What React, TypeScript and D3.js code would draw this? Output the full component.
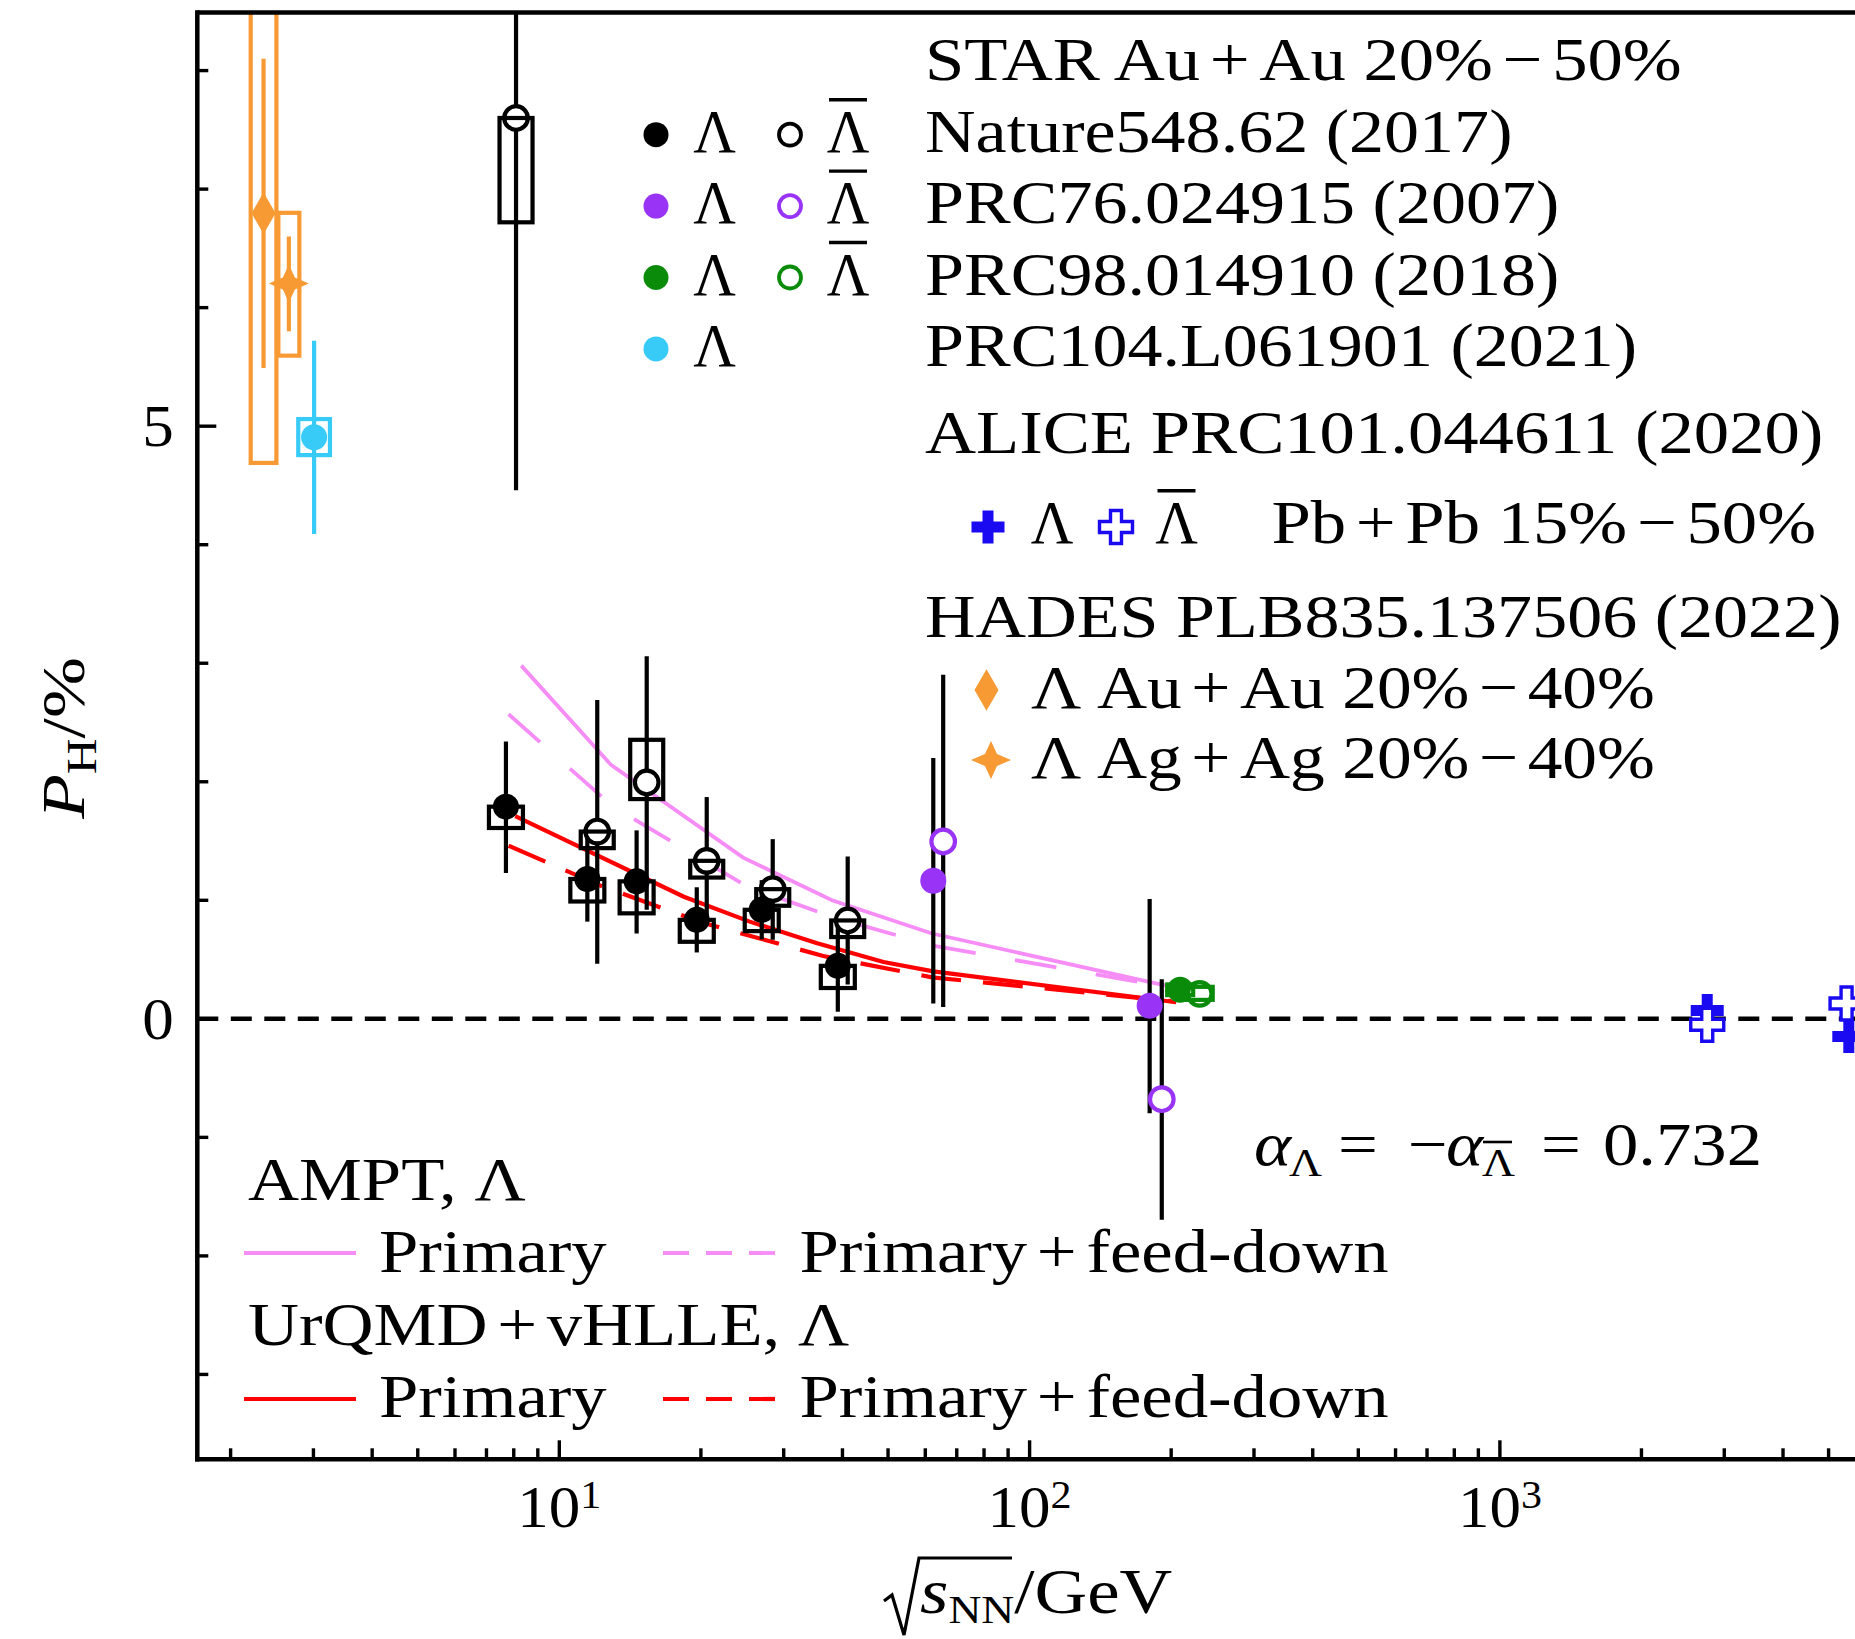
import React from 'react';
import * as d3 from 'd3';

// ---------------- data ----------------
// STAR Au+Au 20-50%, Nature 548, 62 (2017)
const starLamE = [7.7, 11.47, 14.6, 19.6, 26.94, 39.1];
const starLamP = [1.79, 1.18, 1.16, 0.835, 0.92, 0.447];
const starLamStatLo = [1.23, 0.82, 0.72, 0.56, 0.67, 0.06];
const starLamStatHi = [2.34, 1.6, 1.59, 1.11, 1.17, 0.83];
const starLamSysLo = [1.61, 0.99, 0.89, 0.65, 0.74, 0.26];
const starLamSysHi = [1.79, 1.18, 1.16, 0.835, 0.92, 0.447];

const starBarE = [8.09, 12.04, 15.34, 20.58, 28.43, 41.04];
const starBarP = [7.6, 1.58, 1.994, 1.333, 1.094, 0.83];
const starBarStatLo = [4.46, 0.464, 0.92, 0.795, 0.667, 0.29];
const starBarStatHi = [10.74, 2.69, 3.06, 1.871, 1.516, 1.37];
const starBarSysLo = [6.72, 1.44, 1.854, 1.192, 0.954, 0.69];
const starBarSysHi = [7.6, 1.58, 2.354, 1.333, 1.094, 0.83];

// STAR PRC76.024915 (2007)
const prc76LamE = [62.4, 180];
const prc76LamP = [1.165, 0.11];
const prc76LamStatLo = [0.13, -0.796];
const prc76LamStatHi = [2.2, 1.01];
const prc76BarE = [65.5, 191];
const prc76BarP = [1.496, -0.678];
const prc76BarStatLo = [0.099, -1.696];
const prc76BarStatHi = [2.903, 0.335];

// STAR PRC98.014910 (2018)
const prc98LamE = [209];
const prc98LamP = [0.245];
const prc98LamSysLo = [0.2];
const prc98LamSysHi = [0.29];
const prc98BarE = [230];
const prc98BarP = [0.211];
const prc98BarSysLo = [0.16];
const prc98BarSysHi = [0.27];

// STAR PRC104.L061901 (2021)
const prc104E = [3.01];
const prc104P = [4.907];
const prc104StatLo = [4.09];
const prc104StatHi = [5.72];
const prc104SysLo = [4.756];
const prc104SysHi = [5.06];

// HADES PLB835.137506 (2022)
const hadesAuE = [2.35];
const hadesAuP = [6.797];
const hadesAuStatLo = [5.49];
const hadesAuStatHi = [8.1];
const hadesAuSysLo = [4.69];
const hadesAuSysHi = [8.7];
const hadesAgE = [2.66];
const hadesAgP = [6.203];
const hadesAgStatLo = [5.8];
const hadesAgStatHi = [6.6];
const hadesAgSysLo = [5.595];
const hadesAgSysHi = [6.8];

// ALICE PRC101.044611 (2020)
const aliceLamE = [2760, 5520];
const aliceLamP = [0.07, -0.15];
const aliceBarE = [2760, 5460];
const aliceBarP = [-0.05, 0.13];

// Models
const amptPrimE = [8.3, 12.9, 24.6, 38, 62, 195];
const amptPrimP = [2.98, 2.14, 1.36, 1.0, 0.72, 0.28];
const amptFdE = [7.8, 13.0, 25, 38, 62, 195];
const amptFdP = [2.57, 1.79, 1.12, 0.86, 0.62, 0.27];
const urqmdPrimE = [8.06, 18.4, 25.4, 35.2, 48.9, 62.4, 205];
const urqmdPrimP = [1.71, 1.03, 0.82, 0.64, 0.48, 0.4, 0.14];
const urqmdFdE = [7.8, 12.3, 20.2, 36.4, 62, 200];
const urqmdFdP = [1.46, 1.12, 0.81, 0.53, 0.35, 0.15];

const yMajor = [0, 5];
const yMajorLabels = ['0', '5'];
const xMajor = [10, 100, 1000];
const xMajorExp = ['1', '2', '3'];

// ---------------- layout ----------------
const W = 1855, H = 1639;
const X0 = 197.3, X1 = 1855, Y0 = 12.5, Y1 = 1459.3;
const x = d3.scaleLog().domain([1.699, 5690]).range([X0, X1]);
const y = d3.scaleLinear().domain([-3.716, 8.49]).range([Y1, Y0]);

const FONT = "'Liberation Serif', 'Times New Roman', serif";
const C = {
  black: '#000', purple: '#9933f5', green: '#0a8c0a', cyan: '#38cbf8',
  orange: '#f89a33', blue: '#1a0af2', pink: '#f68cf6', red: '#ff0000'
};
const LW = 4.2;
const SX = 1.14;

// binary operators get extra room, as in TeX math
function fmt(s: any) {
  if (typeof s !== 'string') return s;
  const parts = s.split(/([+−])/);
  return parts.map((p, i) => (i === 0 ? p : <tspan key={i} dx={8.5}>{p}</tspan>));
}

function Txt({ x: tx, y: ty, size = 62, anchor = 'start', sx = SX, italic = false, children }: any) {
  return (
    <text transform={`translate(${tx},${ty}) scale(${sx},1)`} fontFamily={FONT} fontSize={size}
      textAnchor={anchor} fontStyle={italic ? 'italic' : 'normal'} fill="#000">{fmt(children)}</text>
  );
}

function LamBar({ cx, base }: any) {
  return (
    <g>
      <Txt x={cx} y={base} anchor="middle" sx={0.95}>Λ</Txt>
      <line x1={cx - 19} x2={cx + 19} y1={base - 52} y2={base - 52} stroke="#000" strokeWidth={3.4} />
    </g>
  );
}

const crossPath = d3.symbol(d3.symbolCross, 605)()!;
const diamondPath = d3.symbol(d3.symbolDiamond, 500)()!;
// four-pointed star
const starPath = (() => {
  const rx = 20, ry = 19, ri = 8.5;
  const pts: [number, number][] = [];
  for (let k = 0; k < 8; k++) {
    const a = -Math.PI / 2 + (k * Math.PI) / 4;
    const outer = k % 2 === 0;
    const rX = outer ? rx : ri, rY = outer ? ry : ri;
    pts.push([Math.cos(a) * rX, Math.sin(a) * rY]);
  }
  return 'M' + pts.map(p => p[0].toFixed(2) + ',' + p[1].toFixed(2)).join('L') + 'Z';
})();

function ErrBars({ E, lo, hi, color }: any) {
  return <g>{E.map((e: number, i: number) => (
    <line key={i} x1={x(e)} x2={x(e)} y1={y(lo[i])} y2={y(hi[i])} stroke={color} strokeWidth={LW} />
  ))}</g>;
}
function Boxes({ E, lo, hi, color, bw }: any) {
  return <g>{E.map((e: number, i: number) => (
    <rect key={i} x={x(e) - bw / 2} width={bw} y={y(hi[i])} height={y(lo[i]) - y(hi[i])}
      fill="none" stroke={color} strokeWidth={LW} />
  ))}</g>;
}
function Circles({ E, P, color, open }: any) {
  return <g>{E.map((e: number, i: number) => (
    open
      ? <circle key={i} cx={x(e)} cy={y(P[i])} r={11.8} fill="#fff" stroke={color} strokeWidth={LW} />
      : <circle key={i} cx={x(e)} cy={y(P[i])} r={13} fill={color} />
  ))}</g>;
}
function Syms({ E, P, path, color, open }: any) {
  return <g>{E.map((e: number, i: number) => (
    <path key={i} d={path} transform={`translate(${x(e)},${y(P[i])})`}
      fill={open ? '#fff' : color} stroke={open ? color : 'none'} strokeWidth={open ? 3.4 : 0} />
  ))}</g>;
}

function Curve({ E, P, color, dash, width }: any) {
  const pts = E.map((e: number, i: number) => [e, P[i]] as [number, number]);
  const line = d3.line<[number, number]>().x(d => x(d[0])).y(d => y(d[1]));
  return <path d={line(pts)!} fill="none" stroke={color} strokeWidth={width} strokeDasharray={dash} />;
}

export default function App() {
  React.useEffect(() => { document.body.style.margin = '0'; }, []);

  const xMinor: number[] = [];
  for (let d = 0; d <= 3; d++) {
    for (let k = 2; k <= 9; k++) {
      const v = k * Math.pow(10, d);
      if (v > 1.7 && v < 5690) xMinor.push(v);
    }
  }
  const yMinor = d3.range(-3, 9).filter(v => !yMajor.includes(v));

  return (
    <svg width={W} height={H} style={{ position: 'absolute', left: 0, top: 0, background: '#fff' }}>
      <defs>
        <clipPath id="plot"><rect x={X0} y={Y0} width={X1 - X0} height={Y1 - Y0} /></clipPath>
      </defs>
      <rect x={0} y={0} width={W} height={H} fill="#fff" />

      <g clipPath="url(#plot)">
        <line x1={X0} x2={X1} y1={y(0)} y2={y(0)} stroke="#000" strokeWidth={4.5} strokeDasharray="21 12.5" />

        <Curve E={amptPrimE} P={amptPrimP} color={C.pink} width={3.8} />
        <Curve E={amptFdE} P={amptFdP} color={C.pink} width={3.8} dash="42 40" />
        <Curve E={urqmdPrimE} P={urqmdPrimP} color={C.red} width={4.2} />
        <Curve E={urqmdFdE} P={urqmdFdP} color={C.red} width={4.2} dash="40 22" />

        <ErrBars E={starLamE} lo={starLamStatLo} hi={starLamStatHi} color={C.black} />
        <ErrBars E={starBarE} lo={starBarStatLo} hi={starBarStatHi} color={C.black} />
        <ErrBars E={prc76LamE} lo={prc76LamStatLo} hi={prc76LamStatHi} color={C.black} />
        <ErrBars E={prc76BarE} lo={prc76BarStatLo} hi={prc76BarStatHi} color={C.black} />
        <ErrBars E={prc104E} lo={prc104StatLo} hi={prc104StatHi} color={C.cyan} />
        <ErrBars E={hadesAuE} lo={hadesAuStatLo} hi={hadesAuStatHi} color={C.orange} />
        <ErrBars E={hadesAgE} lo={hadesAgStatLo} hi={hadesAgStatHi} color={C.orange} />

        <Circles E={starLamE} P={starLamP} color={C.black} />
        <Circles E={starBarE} P={starBarP} color={C.black} open />
        <Circles E={prc76LamE} P={prc76LamP} color={C.purple} />
        <Circles E={prc76BarE} P={prc76BarP} color={C.purple} open />
        <Circles E={prc98LamE} P={prc98LamP} color={C.green} />
        <Circles E={prc98BarE} P={prc98BarP} color={C.green} open />
        <Circles E={prc104E} P={prc104P} color={C.cyan} />
        <Syms E={hadesAuE} P={hadesAuP} path={diamondPath} color={C.orange} />
        <Syms E={hadesAgE} P={hadesAgP} path={starPath} color={C.orange} />
        <Syms E={aliceLamE} P={aliceLamP} path={crossPath} color={C.blue} />
        <Syms E={aliceBarE} P={aliceBarP} path={crossPath} color={C.blue} open />

        <Boxes E={starLamE} lo={starLamSysLo} hi={starLamSysHi} color={C.black} bw={34} />
        <Boxes E={starBarE} lo={starBarSysLo} hi={starBarSysHi} color={C.black} bw={33} />
        <Boxes E={prc98LamE} lo={prc98LamSysLo} hi={prc98LamSysHi} color={C.green} bw={26} />
        <Boxes E={prc98BarE} lo={prc98BarSysLo} hi={prc98BarSysHi} color={C.green} bw={26} />
        <Boxes E={prc104E} lo={prc104SysLo} hi={prc104SysHi} color={C.cyan} bw={31.7} />
        <Boxes E={hadesAuE} lo={hadesAuSysLo} hi={hadesAuSysHi} color={C.orange} bw={25.7} />
        <Boxes E={hadesAgE} lo={hadesAgSysLo} hi={hadesAgSysHi} color={C.orange} bw={21} />
      </g>

      {/* frame */}
      <line x1={X0} x2={X1} y1={Y0} y2={Y0} stroke="#000" strokeWidth={4.5} />
      <line x1={X0} x2={X0} y1={Y0 - 2.2} y2={Y1 + 2.2} stroke="#000" strokeWidth={4.5} />
      <line x1={X0 - 2.2} x2={X1} y1={Y1} y2={Y1} stroke="#000" strokeWidth={4.5} />

      {/* x ticks */}
      {xMajor.map(v => <line key={'xm' + v} x1={x(v)} x2={x(v)} y1={Y1} y2={Y1 - 19} stroke="#000" strokeWidth={3.4} />)}
      {xMinor.map(v => <line key={'xn' + v} x1={x(v)} x2={x(v)} y1={Y1} y2={Y1 - 11} stroke="#000" strokeWidth={3.4} />)}
      {xMajor.map((v, i) => (
        <text key={'xl' + v} transform={`translate(${x(v)},1527) scale(1.05,1)`} fontFamily={FONT} fontSize={60} textAnchor="middle">
          10<tspan fontSize={40} dy={-19}>{xMajorExp[i]}</tspan>
        </text>
      ))}

      {/* y ticks */}
      {yMajor.map(v => <line key={'ym' + v} x1={X0} x2={X0 + 19} y1={y(v)} y2={y(v)} stroke="#000" strokeWidth={3.4} />)}
      {yMinor.map(v => <line key={'yn' + v} x1={X0} x2={X0 + 11} y1={y(v)} y2={y(v)} stroke="#000" strokeWidth={3.4} />)}
      {yMajor.map((v, i) => (
        <Txt key={'yl' + v} x={158} y={y(v) + 20} size={60} anchor="middle" sx={1.05}>{yMajorLabels[i]}</Txt>
      ))}

      {/* axis titles */}
      <text transform="translate(84,738) rotate(-90) scale(1.18,1)" fontFamily={FONT} fontSize={62} textAnchor="middle">
        <tspan fontStyle="italic">P</tspan><tspan fontSize={42} dy={12}>H</tspan><tspan dy={-12}>/%</tspan>
      </text>
      <path d="M884,1601 L892,1595 L904,1635 L919,1558 L1012,1558" fill="none" stroke="#000" strokeWidth={3.2} />
      <text transform="translate(920,1613) scale(1.14,1)" fontFamily={FONT} fontSize={64}>
        <tspan fontStyle="italic">s</tspan><tspan fontSize={40} dy={10}>NN</tspan><tspan dy={-10}>/GeV</tspan>
      </text>

      {/* top-right legend */}
      <Txt x={925} y={80}>STAR Au+Au 20%−50%</Txt>
      {[
        { c: C.black, label: 'Nature548.62 (2017)', bar: true },
        { c: C.purple, label: 'PRC76.024915 (2007)', bar: true },
        { c: C.green, label: 'PRC98.014910 (2018)', bar: true },
        { c: C.cyan, label: 'PRC104.L061901 (2021)', bar: false },
      ].map((r, i) => {
        const base = 151.7 + i * 71.4;
        const my = base - 17;
        return (
          <g key={'lg' + i}>
            <circle cx={656} cy={my} r={12.5} fill={r.c} />
            <Txt x={714.5} y={base} anchor="middle" sx={0.95}>Λ</Txt>
            {r.bar && <circle cx={790} cy={my} r={11} fill="#fff" stroke={r.c} strokeWidth={3.8} />}
            {r.bar && <LamBar cx={848} base={base} />}
            <Txt x={925} y={base} sx={1.13}>{r.label}</Txt>
          </g>
        );
      })}
      <Txt x={925} y={453}>ALICE PRC101.044611 (2020)</Txt>
      <path d={crossPath} transform="translate(988,527)" fill={C.blue} />
      <Txt x={1052} y={542.7} anchor="middle" sx={0.95}>Λ</Txt>
      <path d={crossPath} transform="translate(1116,527)" fill="#fff" stroke={C.blue} strokeWidth={3.4} />
      <LamBar cx={1176.5} base={542.7} />
      <Txt x={1271.5} y={542.7}>Pb+Pb 15%−50%</Txt>
      <Txt x={925} y={636.7} sx={1.13}>HADES PLB835.137506 (2022)</Txt>
      <path d={diamondPath} transform="translate(986.5,690)" fill={C.orange} />
      <Txt x={1031} y={707.7} sx={1.12}>Λ Au+Au 20%−40%</Txt>
      <path d={starPath} transform="translate(991,760)" fill={C.orange} />
      <Txt x={1031} y={778.3} sx={1.12}>Λ Ag+Ag 20%−40%</Txt>

      {/* alpha annotation */}
      <Txt x={1254} y={1165} italic>α</Txt>
      <Txt x={1289} y={1176} size={40}>Λ</Txt>
      <Txt x={1338} y={1165}>=</Txt>
      <Txt x={1398} y={1165}>{'\u2212'}</Txt>
      <Txt x={1446} y={1165} italic>α</Txt>
      <Txt x={1482} y={1176} size={40}>Λ</Txt>
      <line x1={1483} x2={1512} y1={1142} y2={1142} stroke="#000" strokeWidth={2.6} />
      <Txt x={1541} y={1165}>=</Txt>
      <Txt x={1603} y={1165}>0.732</Txt>

      {/* bottom-left legend */}
      <Txt x={248} y={1200}>AMPT, Λ</Txt>
      <line x1={244} x2={356} y1={1253} y2={1253} stroke={C.pink} strokeWidth={3.8} />
      <Txt x={379} y={1271.7}>Primary</Txt>
      <line x1={663} x2={775} y1={1253} y2={1253} stroke={C.pink} strokeWidth={3.8} strokeDasharray="26 17" />
      <Txt x={799.5} y={1271.7}>Primary+feed-down</Txt>
      <Txt x={248} y={1345}>UrQMD+vHLLE, Λ</Txt>
      <line x1={244} x2={356} y1={1399} y2={1399} stroke={C.red} strokeWidth={4.2} />
      <Txt x={379} y={1416.7}>Primary</Txt>
      <line x1={663} x2={775} y1={1399} y2={1399} stroke={C.red} strokeWidth={4.2} strokeDasharray="26 17" />
      <Txt x={799.5} y={1416.7}>Primary+feed-down</Txt>
    </svg>
  );
}
